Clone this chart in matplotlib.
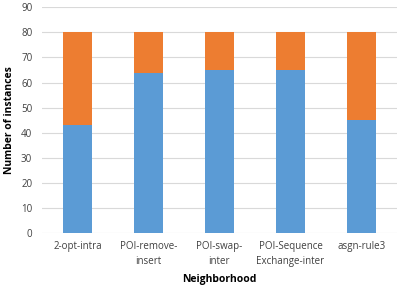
import matplotlib.pyplot as plt
import numpy as np

# data
neighborhoods = ['2-opt-intra', 'POI-remove-\ninsert', 'POI-swap-\ninter',
                 'POI-Sequence\nExchange-inter', 'asgn-rule3']
improved = [43, 64, 65, 65, 45]
not_improved = [37, 16, 15, 15, 35]

plt.rcParams['font.family'] = ['Open Sans', 'DejaVu Sans']

fig = plt.figure(figsize=(4.03, 2.93), dpi=100)
ax = fig.add_axes([0.1042, 0.2048, 0.8808, 0.7702])

x = np.arange(len(neighborhoods))
ax.bar(x, improved, width=0.4, color='#5B9BD5', zorder=3)
ax.bar(x, not_improved, width=0.4, bottom=improved, color='#ED7D31', zorder=3)

ax.set_xlim(-0.5, len(neighborhoods) - 0.5)
ax.set_ylim(0, 90)
ax.set_yticks(range(0, 91, 10))
ax.set_xticks(x)
ax.set_xticklabels(neighborhoods, fontsize=7, color='#404040', linespacing=1.5)
ax.tick_params(axis='y', labelsize=7, labelcolor='#404040', length=0, pad=7)
ax.tick_params(axis='x', length=0, pad=6)
ax.grid(axis='y', color='#D9D9D9', linewidth=0.8, zorder=0)
for s in ax.spines.values():
    s.set_visible(False)

ax.set_xlabel('Neighborhood', fontsize=7.5, fontweight='bold', labelpad=5)
ax.set_ylabel('Number of instances', fontsize=7.5, fontweight='bold', labelpad=4)

plt.savefig('out.png', dpi=100)
